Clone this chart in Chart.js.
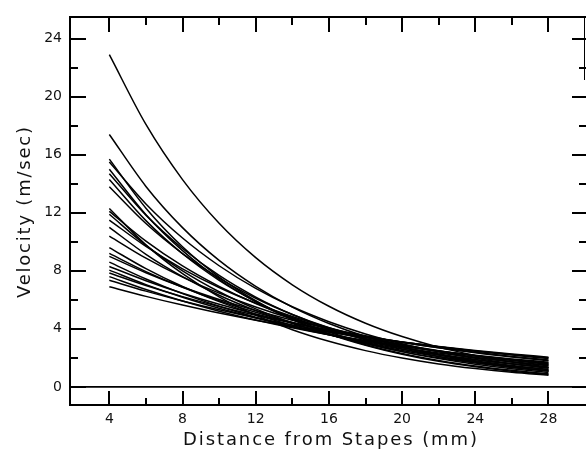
<!DOCTYPE html>
<html><head><meta charset="utf-8">
<script src="https://cdn.jsdelivr.net/npm/chart.js@4/dist/chart.umd.min.js"></script>
<style>html,body{margin:0;padding:0;background:#fff;overflow:hidden}</style>
</head><body><canvas id="c" width="586" height="454"></canvas>
<script>
// ---- data (every 2 mm) ----
const distances = [4, 6, 8, 10, 12, 14, 16, 18, 20, 22, 24, 26, 28];
const xTickValues = [4, 8, 12, 16, 20, 24, 28];
const yTickValues = [0, 4, 8, 12, 16, 20, 24];
const xTitle = 'Distance from Stapes (mm)';
const yTitle = 'Velocity (m/sec)';
const v01 = [22.9, 18.09, 14.29, 11.28, 8.91, 7.04, 5.56, 4.39, 3.47, 2.74, 2.17, 1.71, 1.35];
const v02 = [17.4, 13.82, 10.98, 8.72, 6.93, 5.50, 4.37, 3.47, 2.76, 2.19, 1.74, 1.38, 1.10];
const v03 = [15.7, 12.32, 9.66, 7.57, 5.94, 4.66, 3.65, 2.87, 2.25, 1.76, 1.38, 1.08, 0.85];
const v04 = [15.5, 12.61, 10.26, 8.35, 6.79, 5.52, 4.49, 3.65, 2.97, 2.42, 1.97, 1.60, 1.30];
const v05 = [15.0, 11.87, 9.39, 7.42, 5.87, 4.64, 3.67, 2.91, 2.30, 1.82, 1.44, 1.14, 0.90];
const v06 = [14.7, 11.84, 9.54, 7.68, 6.19, 4.99, 4.02, 3.24, 2.61, 2.10, 1.69, 1.36, 1.10];
const v07 = [14.3, 11.46, 9.18, 7.35, 5.89, 4.72, 3.78, 3.03, 2.43, 1.95, 1.56, 1.25, 1.00];
const v08 = [13.8, 11.26, 9.19, 7.49, 6.11, 4.99, 4.07, 3.32, 2.71, 2.21, 1.80, 1.47, 1.20];
const v09 = [12.3, 9.79, 7.80, 6.21, 4.95, 3.94, 3.14, 2.50, 1.99, 1.58, 1.26, 1.00, 0.80];
const v10 = [12.1, 10.05, 8.34, 6.93, 5.75, 4.78, 3.97, 3.29, 2.73, 2.27, 1.89, 1.57, 1.30];
const v11 = [11.9, 9.76, 8.00, 6.56, 5.38, 4.41, 3.62, 2.97, 2.43, 2.00, 1.64, 1.34, 1.10];
const v12 = [11.5, 9.68, 8.14, 6.85, 5.77, 4.85, 4.08, 3.43, 2.89, 2.43, 2.05, 1.72, 1.45];
const v13 = [11.0, 9.14, 7.60, 6.32, 5.26, 4.37, 3.63, 3.02, 2.51, 2.09, 1.74, 1.44, 1.20];
const v14 = [10.4, 8.87, 7.57, 6.46, 5.51, 4.70, 4.01, 3.42, 2.92, 2.49, 2.13, 1.82, 1.55];
const v15 = [9.6, 8.15, 6.92, 5.88, 4.99, 4.24, 3.60, 3.06, 2.60, 2.21, 1.87, 1.59, 1.35];
const v16 = [9.2, 7.95, 6.87, 5.94, 5.14, 4.44, 3.84, 3.32, 2.87, 2.48, 2.14, 1.85, 1.60];
const v17 = [9.0, 7.87, 6.88, 6.02, 5.26, 4.60, 4.02, 3.52, 3.08, 2.69, 2.35, 2.06, 1.80];
const v18 = [8.6, 7.44, 6.43, 5.56, 4.80, 4.15, 3.59, 3.11, 2.69, 2.33, 2.01, 1.74, 1.50];
const v19 = [8.3, 7.32, 6.46, 5.70, 5.03, 4.44, 3.92, 3.46, 3.05, 2.69, 2.38, 2.10, 1.85];
const v20 = [8.05, 7.05, 6.18, 5.42, 4.75, 4.16, 3.64, 3.19, 2.80, 2.45, 2.15, 1.88, 1.65];
const v21 = [7.85, 6.99, 6.22, 5.54, 4.94, 4.40, 3.91, 3.48, 3.10, 2.76, 2.46, 2.19, 1.95];
const v22 = [7.6, 6.71, 5.92, 5.22, 4.61, 4.07, 3.59, 3.17, 2.80, 2.47, 2.18, 1.93, 1.70];
const v23 = [7.35, 6.60, 5.92, 5.31, 4.76, 4.27, 3.83, 3.44, 3.09, 2.77, 2.48, 2.23, 2.00];
const v24 = [6.9, 6.24, 5.64, 5.09, 4.60, 4.16, 3.76, 3.40, 3.07, 2.78, 2.51, 2.27, 2.05];
const allCurves = [v01,v02,v03,v04,v05,v06,v07,v08,v09,v10,v11,v12,v13,v14,v15,v16,v17,v18,v19,v20,v21,v22,v23,v24];

const FONT = 'DejaVu Sans';

const datasets = allCurves.map((vals, i) => ({
  label: 'Curve ' + (i + 1),
  data: distances.map((d, j) => ({x: d, y: vals[j]})),
  borderColor: '#000',
  borderWidth: 1.5,
  pointRadius: 0,
  fill: false,
  cubicInterpolationMode: 'monotone'
}));

const framePlugin = {
  id: 'frame',
  afterDraw(chart) {
    const ctx = chart.ctx, ca = chart.chartArea;
    const xs = chart.scales.x, ys = chart.scales.y;
    const L = ca.left, R = ca.right, T = ca.top, B = ca.bottom;
    ctx.save();
    ctx.strokeStyle = '#000';
    ctx.lineCap = 'butt';
    ctx.lineWidth = 2;
    ctx.beginPath();
    ctx.moveTo(L, T); ctx.lineTo(R, T);
    ctx.moveTo(L, T - 1); ctx.lineTo(L, B + 1);
    ctx.moveTo(L, B); ctx.lineTo(R, B);
    ctx.stroke();
    ctx.lineWidth = 1;
    ctx.beginPath();
    ctx.moveTo(R - 1.5, T); ctx.lineTo(R - 1.5, T + 63);
    ctx.stroke();
    ctx.lineWidth = 1.6;
    const y0 = ys.getPixelForValue(0);
    ctx.beginPath(); ctx.moveTo(L, y0); ctx.lineTo(R, y0); ctx.stroke();
    ctx.lineWidth = 2;
    const xMinor = xTickValues.slice(0, -1).map((v, i) => (v + xTickValues[i + 1]) / 2);
    ctx.beginPath();
    xTickValues.forEach(v => { const p = Math.round(xs.getPixelForValue(v)); ctx.moveTo(p, B); ctx.lineTo(p, B - 14); ctx.moveTo(p, T); ctx.lineTo(p, T + 15); });
    xMinor.forEach(v => { const p = Math.round(xs.getPixelForValue(v)); ctx.moveTo(p, B); ctx.lineTo(p, B - 7); ctx.moveTo(p, T); ctx.lineTo(p, T + 8); });
    const yMinor = yTickValues.slice(0, -1).map((v, i) => (v + yTickValues[i + 1]) / 2);
    yTickValues.forEach(v => { const p = Math.round(ys.getPixelForValue(v)); ctx.moveTo(L, p); ctx.lineTo(L + 16, p); ctx.moveTo(R, p); ctx.lineTo(R - 14, p); });
    yMinor.forEach(v => { const p = Math.round(ys.getPixelForValue(v)); ctx.moveTo(L, p); ctx.lineTo(L + 8, p); ctx.moveTo(R, p); ctx.lineTo(R - 7, p); });
    ctx.stroke();
    ctx.fillStyle = '#111';
    ctx.textBaseline = 'middle';
    ctx.textAlign = 'left';
    ctx.font = '18px "' + FONT + '"';
    function fitText(text, target) {
      ctx.letterSpacing = '0px';
      const w = ctx.measureText(text).width;
      const ls = (target - w) / (text.length - 1);
      ctx.letterSpacing = ls + 'px';
      return ls;
    }
    fitText(xTitle, 294);
    ctx.fillText(xTitle, 183, 440);
    ctx.translate(25, 298);
    ctx.rotate(-Math.PI / 2);
    fitText(yTitle, 171);
    ctx.fillText(yTitle, 0, 0);
    ctx.restore();
  }
};

new Chart(document.getElementById('c'), {
  type: 'line',
  data: { datasets },
  options: {
    responsive: false,
    animation: false,
    devicePixelRatio: 1,
    layout: { padding: { top: 17, right: 0, left: 0, bottom: 0 } },
    plugins: { legend: { display: false }, tooltip: { enabled: false }, title: { display: false } },
    scales: {
      x: {
        type: 'linear', min: 1.85, max: 30.05,
        afterBuildTicks: s => { s.ticks = xTickValues.map(v => ({value: v})); },
        afterFit: s => { s.height = 49; },
        grid: { display: false, drawTicks: false },
        border: { display: false },
        ticks: { color: '#111', font: { family: FONT, size: 14 }, padding: 6, maxRotation: 0, autoSkip: false }
      },
      y: {
        type: 'linear', min: -1.25, max: 25.5,
        afterBuildTicks: s => { s.ticks = yTickValues.map(v => ({value: v})); },
        afterFit: s => { s.width = 70; },
        grid: { display: false, drawTicks: false },
        border: { display: false },
        ticks: { color: '#111', font: { family: FONT, size: 14 }, padding: 8, autoSkip: false }
      }
    }
  },
  plugins: [framePlugin]
});
</script></body></html>
